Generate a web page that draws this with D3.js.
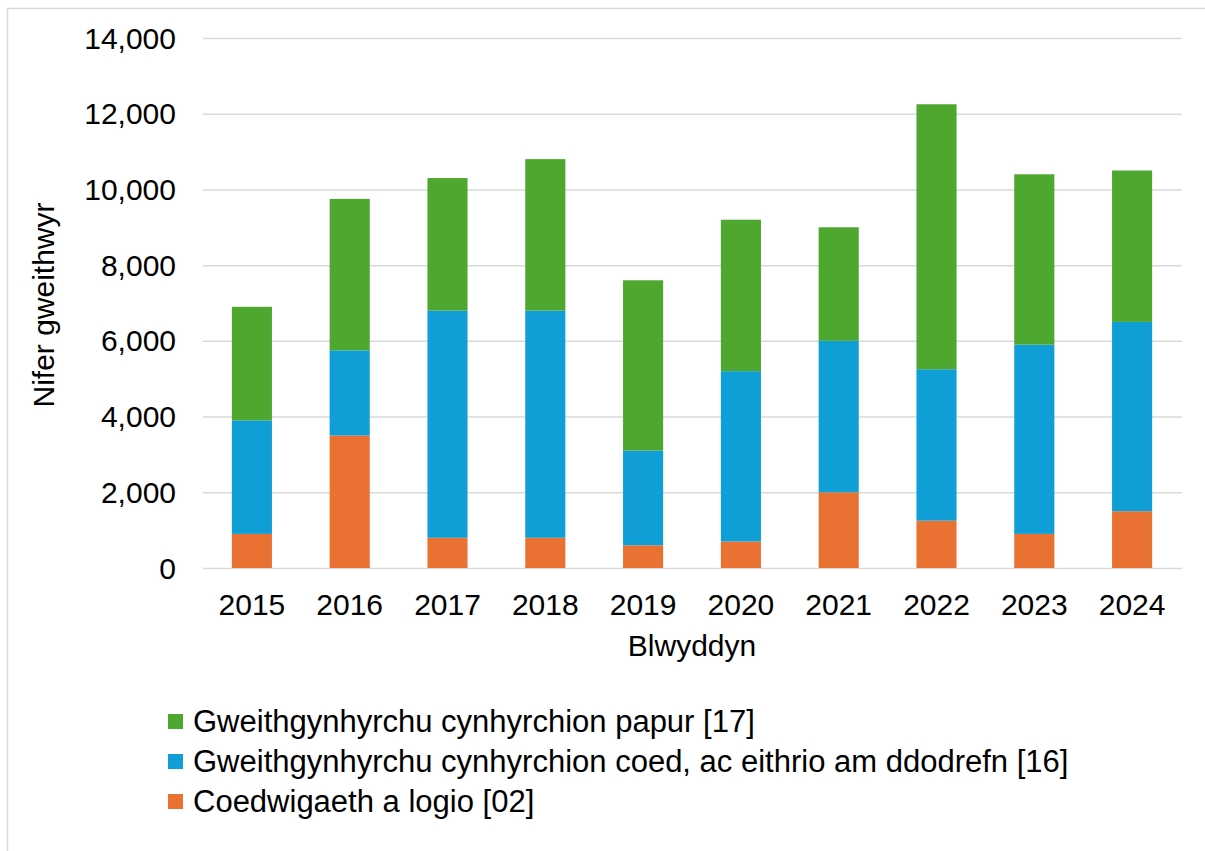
<!DOCTYPE html>
<html>
<head>
<meta charset="utf-8">
<script src="https://cdn.jsdelivr.net/npm/d3@7"></script>
<style>
  body { margin: 0; background: #fff; }
  svg text { font-family: "Liberation Sans", Arial, sans-serif; fill: #000; }
</style>
</head>
<body>
<div id="chart"></div>
<script>
var years = ['2015', '2016', '2017', '2018', '2019', '2020', '2021', '2022', '2023', '2024'];
var coedwigaeth = [900, 3500, 800, 800, 600, 700, 2000, 1250, 900, 1500];
var coed = [3000, 2250, 6000, 6000, 2500, 4500, 4000, 4000, 5000, 5000];
var papur = [3000, 4000, 3500, 4000, 4500, 4000, 3000, 7000, 4500, 4000];
var yTicks = [0, 2000, 4000, 6000, 8000, 10000, 12000, 14000];
var seriesNames = [
    'Coedwigaeth a logio [02]',
    'Gweithgynhyrchu cynhyrchion coed, ac eithrio am ddodrefn [16]',
    'Gweithgynhyrchu cynhyrchion papur [17]'
];
var colours = ['#E97132', '#0F9ED5', '#4EA72E'];

var W = 1205, H = 851;
var svg = d3.select('#chart').append('svg').attr('width', W).attr('height', H);

// outer frame (runs off the right and bottom)
svg.append('rect').attr('x', 7.5).attr('y', 8.5).attr('width', W).attr('height', H)
    .attr('fill', 'none').attr('stroke', '#d9d9d9').attr('stroke-width', 1.5);

var x = d3.scaleBand().domain(years).range([203, 1181]).paddingInner(0.59).paddingOuter(0.295);
var y = d3.scaleLinear().domain([0, 14000]).range([568, 38]);

// gridlines
svg.append('g').selectAll('line').data(yTicks).enter().append('line')
    .attr('x1', 203).attr('x2', 1182)
    .attr('y1', function(d){ return y(d) + 0.5; }).attr('y2', function(d){ return y(d) + 0.5; })
    .attr('stroke', '#d9d9d9').attr('stroke-width', 1.5);

var rows = years.map(function(yr, i){
    return { year: yr, s0: coedwigaeth[i], s1: coed[i], s2: papur[i] };
});
var stack = d3.stack().keys(['s0', 's1', 's2'])(rows);

svg.append('g').selectAll('g').data(stack).enter().append('g')
    .attr('fill', function(d, i){ return colours[i]; })
    .selectAll('rect').data(function(d){ return d; }).enter().append('rect')
    .attr('x', function(d){ return x(d.data.year); })
    .attr('width', x.bandwidth())
    .attr('y', function(d){ return y(d[1]); })
    .attr('height', function(d){ return y(d[0]) - y(d[1]); });

var fs = '30px';

// y axis labels
var fmt = d3.format(',');
svg.append('g').selectAll('text').data(yTicks).enter().append('text')
    .attr('x', 176).attr('y', function(d){ return y(d); })
    .attr('dy', '0.35em').attr('text-anchor', 'end')
    .style('font-size', fs)
    .text(function(d){ return fmt(d); });

// x axis labels
svg.append('g').selectAll('text').data(years).enter().append('text')
    .attr('x', function(d){ return x(d) + x.bandwidth() / 2; })
    .attr('y', 615).attr('text-anchor', 'middle')
    .style('font-size', fs)
    .text(function(d){ return d; });

svg.append('text').attr('x', 692).attr('y', 656).attr('text-anchor', 'middle')
    .style('font-size', fs).text('Blwyddyn');

svg.append('text').attr('transform', 'translate(54,305) rotate(-90)')
    .attr('text-anchor', 'middle').style('font-size', fs).text('Nifer gweithwyr');

// legend, green on top
var legendOrder = [2, 1, 0];
var lg = svg.append('g').selectAll('g').data(legendOrder).enter().append('g')
    .attr('transform', function(d, i){ return 'translate(168,' + (721 + i * 40) + ')'; });
lg.append('rect').attr('x', 0).attr('y', -7).attr('width', 15).attr('height', 15)
    .attr('fill', function(d){ return colours[d]; });
lg.append('text').attr('x', 25).attr('y', 0).attr('dy', '0.35em')
    .style('font-size', '31px')
    .text(function(d){ return seriesNames[d]; });
</script>
</body>
</html>
